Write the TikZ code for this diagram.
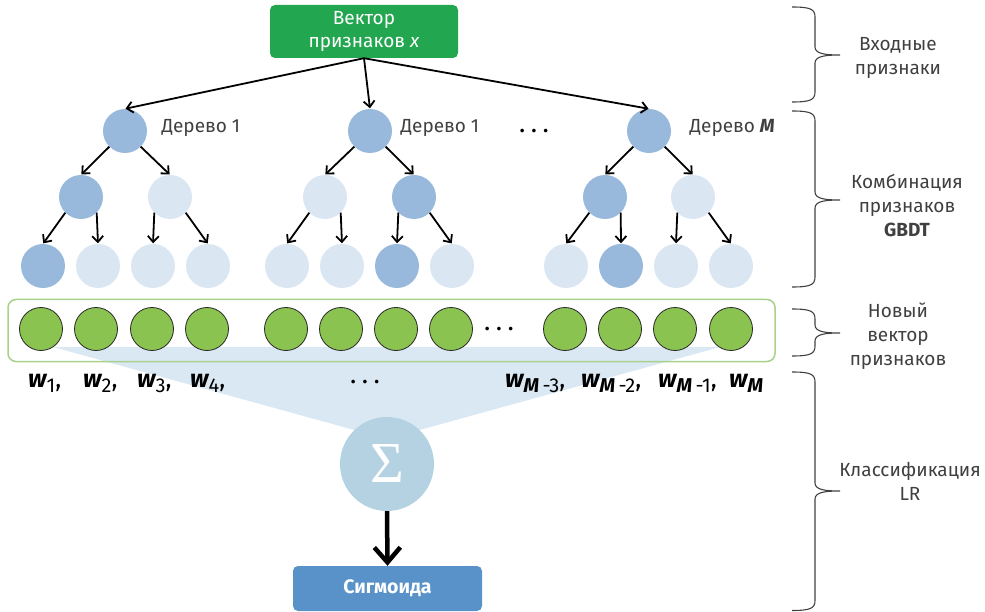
\documentclass[tikz,border=0pt]{standalone}
\usepackage{fontspec}
\setmainfont{Fira Sans}
\newfontfamily\sigfont{Liberation Serif}
\usetikzlibrary{arrows.meta}
\definecolor{topgreen}{RGB}{35,166,80}
\definecolor{dkblue}{RGB}{152,185,220}
\definecolor{ltblue}{RGB}{218,231,243}
\definecolor{rowgreen}{RGB}{139,195,80}
\definecolor{rowborder}{RGB}{169,209,142}
\definecolor{fanblue}{RGB}{218,232,243}
\definecolor{sigblue}{RGB}{180,210,226}
\definecolor{sgmblue}{RGB}{88,146,200}
\definecolor{txtgray}{RGB}{64,64,64}
\newcommand{\rbr}[3]{\draw[bracestyle] (792,#1) .. controls (810,#1) and (815,#1+2) .. (815,#1+10) -- (815,#2-8) .. controls (815,#2-1) and (826,#2) .. (840,#2) .. controls (826,#2) and (815,#2+1) .. (815,#2+8) -- (815,#3-10) .. controls (815,#3-2) and (810,#3) .. (792,#3);}
\newcommand{\wlab}[1]{{\bfseries\itshape w}\raisebox{-5pt}{\fontsize{20}{20}\selectfont #1}}
\newcommand{\mM}{{\bfseries\itshape M}}
\begin{document}
\begin{tikzpicture}[x=1pt,y=-1pt,
  dk/.style={circle, fill=dkblue, minimum size=44pt, inner sep=0pt},
  lt/.style={circle, fill=ltblue, minimum size=44pt, inner sep=0pt},
  gn/.style={circle, fill=rowgreen, draw=black!85, line width=0.8pt, minimum size=43pt, inner sep=0pt},
  arr/.style={-{Straight Barb[length=6pt,width=11pt]}, line width=1.8pt, shorten >=0.5pt},
  lbl/.style={font=\fontsize{19}{24}\selectfont, text=txtgray, align=center},
  treelbl/.style={font=\fontsize{19}{24}\selectfont, text=txtgray, anchor=west},
  wl/.style={font=\fontsize{25}{25}\selectfont, anchor=base west, inner sep=0pt},
  bracestyle/.style={draw=txtgray, line width=1.1pt},
  dots/.style={font=\fontsize{20}{20}\selectfont\bfseries, inner sep=0pt}
]
\useasboundingbox (0,0) rectangle (985,612);

% top box
\node[fill=topgreen, rounded corners=5pt, minimum width=188pt, minimum height=53pt,
      text=white, align=center, font=\fontsize{19}{23}\selectfont] (top) at (364,31.5)
      {Вектор\\признаков \textit{x}};

% tree 1
\node[dk] (r1) at (125,131) {};
\node[dk] (a1) at (81,197) {};
\node[lt] (b1) at (170,197) {};
\node[dk] (c1) at (43,266) {};
\node[lt] (d1) at (98,266) {};
\node[lt] (e1) at (153,266) {};
\node[lt] (f1) at (208,266) {};
% tree 2
\node[dk] (r2) at (370,131) {};
\node[lt] (a2) at (325,197) {};
\node[dk] (b2) at (414,197) {};
\node[lt] (c2) at (287,266) {};
\node[lt] (d2) at (342,266) {};
\node[dk] (e2) at (397,266) {};
\node[lt] (f2) at (452,266) {};
% tree M
\node[dk] (r3) at (649,131) {};
\node[dk] (a3) at (605,197) {};
\node[lt] (b3) at (693,197) {};
\node[lt] (c3) at (566,266) {};
\node[dk] (d3) at (621,266) {};
\node[lt] (e3) at (676,266) {};
\node[lt] (f3) at (731,266) {};

\foreach \t in {1,2,3}{
  \draw[arr] (top.south) -- (r\t.north);
  \draw[arr] (r\t.-135) -- (a\t.north);
  \draw[arr] (r\t.-45) -- (b\t.north);
  \draw[arr] (a\t.-135) -- (c\t.north);
  \draw[arr] (a\t.-45) -- (d\t.north);
  \draw[arr] (b\t.-135) -- (e\t.north);
  \draw[arr] (b\t.-45) -- (f\t.north);
}

\node[treelbl] (t1) at (158,128) {Дерево 1};
\node[treelbl] (t2) at (397,128) {Дерево 1};
\node[treelbl] (t3) at (686,128) {Дерево \mM};
\node[dots] (dt) at (534,131) {.\hspace{7pt}.\hspace{7pt}.};

% fan polygon
\fill[fanblue] (53,347) -- (720,347) -- (387,439) -- cycle;

% row
\node[draw=rowborder, line width=1.5pt, rounded corners=8pt, minimum width=767pt, minimum height=62pt] (row) at (391.5,330.5) {};
\foreach \n/\x in {1/41,2/96,3/152,4/207,5/286,6/341,7/396,8/451,9/565,10/620,11/675,12/731}{
  \node[gn] (g\n) at (\x,329) {};
}
\node[dots] (dr) at (499,329) {.\hspace{7pt}.\hspace{7pt}.};

% weights
\node[wl] (w1) at (28,387) {\wlab{1},};
\node[wl] (w2) at (83,387) {\wlab{2},};
\node[wl] (w3) at (137,387) {\wlab{3},};
\node[wl] (w4) at (190,387) {\wlab{4},};
\node[dots] (dw) at (365,382) {.\hspace{7pt}.\hspace{7pt}.};
\node[wl] (w5) at (505,387) {\wlab{\mM\,-3},};
\node[wl] (w6) at (581,387) {\wlab{\mM\,-2},};
\node[wl] (w7) at (658,387) {\wlab{\mM\,-1},};
\node[wl] (w8) at (729,387) {\wlab{\mM}};

% sigma
\node[circle, fill=sigblue, minimum size=94pt, inner sep=0pt, text=white,
      font=\sigfont\fontsize{58}{58}\selectfont] (sig) at (387,464) {Σ};
\node[fill=sgmblue, rounded corners=5pt, minimum width=189pt, minimum height=45pt,
      text=white, font=\fontsize{19.5}{22}\selectfont\bfseries] (sgm) at (387.5,588.5) {Сигмоида};
\draw[line width=4.5pt, -{Straight Barb[length=15pt,width=26pt]}] (sig.south) -- (sgm.north);

% braces
\rbr{7}{55}{102}
\rbr{111}{200}{287}
\rbr{309}{333}{356}
\rbr{372}{491}{610.5}

\node[lbl] (l1) at (898,58) {Входные\\признаки};
\node[lbl] (l2) at (907,206) {Комбинация\\признаков\\\textbf{GBDT}};
\node[lbl] (l3) at (898,336) {Новый\\вектор\\признаков};
\node[lbl] (l4) at (910,481) {Классификация\\LR};
\end{tikzpicture}
\end{document}
